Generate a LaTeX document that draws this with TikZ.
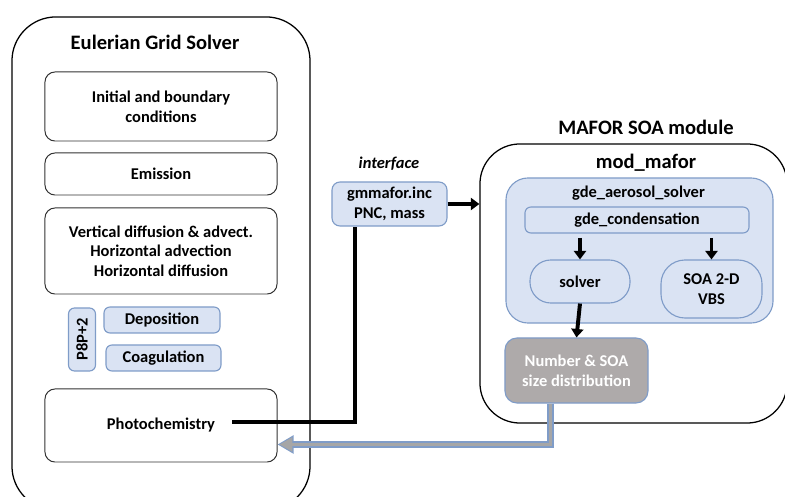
\documentclass[tikz,border=0pt]{standalone}
\usepackage{fontspec}
\setmainfont{Carlito}
\usetikzlibrary{positioning, arrows.meta, calc}
\definecolor{boxblue}{HTML}{DAE3F3}
\definecolor{lineblue}{HTML}{7F9CC8}
\definecolor{boxgray}{HTML}{AEAAAA}
\definecolor{arrgray}{HTML}{A6A6A6}

\tikzset{
    txt/.style={font=\bfseries\fontsize{11.7}{14}\selectfont, align=center},
    head/.style={font=\bfseries\fontsize{14.6}{17}\selectfont},
    bigbox/.style={draw, line width=0.9pt, rounded corners=1.1cm},
    whitebox/.style={txt, draw=black!80, line width=0.7pt, rounded corners=0.25cm, minimum width=5.8cm},
    bluebox/.style={txt, draw=lineblue, fill=boxblue, line width=0.8pt, rounded corners=0.15cm},
    pill/.style={bluebox, rounded corners=0.52cm},
    link/.style={line width=2.8pt, line join=miter},
    darrow/.style={link, -{Triangle[length=6pt, width=8.5pt]}},
}

\begin{document}
\begin{tikzpicture}[x=0.025cm, y=-0.025cm]
            \useasboundingbox (0, 0) rectangle (785, 497);
            \clip (0, 0) rectangle (785, 497);

            % Eulerian grid side
            \node [bigbox, minimum width=7.45cm, minimum height=12.325cm] (euler) at (161, 263.5) {};
            \node [head] (eulertitle) at (155, 42) {Eulerian Grid Solver};
            \node [whitebox, minimum height=1.725cm] (ibc) at (161, 106.5) {Initial and boundary\\conditions};
            \node [whitebox, minimum height=1.05cm] (emis) at (161, 174) {Emission};
            \node [whitebox, minimum height=2.15cm] (vdif) at (161, 251) {Vertical diffusion \& advect.\\Horizontal advection\\Horizontal diffusion};
            \node [bluebox, rotate=90, minimum width=1.575cm, minimum height=0.675cm, inner sep=0pt] (p8p) at (82, 339.5) {P8P+2};
            \node [bluebox, minimum width=2.9cm, minimum height=0.65cm, inner sep=0pt] (dep) at (162, 320) {Deposition};
            \node [bluebox, minimum width=2.875cm, minimum height=0.65cm, inner sep=0pt] (coag) at (163.5, 358) {Coagulation};
            \node [whitebox, minimum height=1.825cm] (photo) at (161, 425.5) {Photochemistry};

            % interface
            \node [txt, font=\bfseries\itshape\fontsize{11.7}{14}\selectfont] (iface) at (389, 164) {interface};
            \node [bluebox, minimum width=2.875cm, minimum height=1.1cm, rounded corners=0.2cm, inner sep=0pt] (gmm) at (389.5, 204) {gmmafor.inc\\PNC, mass};

            % MAFOR side
            \node [bigbox, rounded corners=1cm, minimum width=7.675cm, minimum height=6.975cm] (mafor) at (633.5, 283.5) {};
            \node [head] (mafortitle) at (646, 127) {MAFOR SOA module};
            \node [head] (modmafor) at (646, 163) {mod\_mafor};
            \node [bluebox, rounded corners=0.55cm, minimum width=6.675cm, minimum height=3.625cm] (gas) at (639.5, 250.5) {};
            \node [txt] (gaslabel) at (638.5, 193) {gde\_aerosol\_solver};
            \node [bluebox, minimum width=5.6cm, minimum height=0.65cm, inner sep=0pt] (cond) at (637, 220) {gde\_condensation};
            \node [pill, minimum width=2.5cm, minimum height=1.075cm] (solver) at (580, 281.5) {solver};
            \node [pill, rounded corners=0.6cm, minimum width=2.525cm, minimum height=1.45cm] (vbs) at (711.5, 289) {SOA 2-D\\VBS};
            \node [bluebox, fill=boxgray, text=white, rounded corners=0.3cm, minimum width=3.575cm, minimum height=1.625cm] (num) at (576.5, 370.5) {Number \& SOA\\size distribution};

            % connectors
            \draw [link] ($(photo.center)+(71, -3.5)$) -| ($(gmm.south)+(-34.5, 0)$);
            \draw [darrow] (gmm.east) -- (mafor.west |- gmm.east);
            \draw [darrow, shorten <=3pt] (cond.south -| solver.north) -- (solver.north);
            \draw [darrow, shorten <=3pt] (cond.south -| vbs.north) -- (vbs.north);
            \draw [darrow] (solver.south) -- (num.north);

            % return arrow, outline then fill
            \draw [lineblue, line width=4.4pt, -{Triangle[length=11.5pt, width=12.5pt]}] ($(num.south)+(-26, 0)$) |- ($(photo.east)+(0, 19)$);
            \draw [arrgray, line width=2.8pt, shorten >=1.3pt, shorten <=0.6pt, -{Triangle[length=9.2pt, width=9.6pt]}] ($(num.south)+(-26, 0)$) |- ($(photo.east)+(0, 19)$);
\end{tikzpicture}
\end{document}
